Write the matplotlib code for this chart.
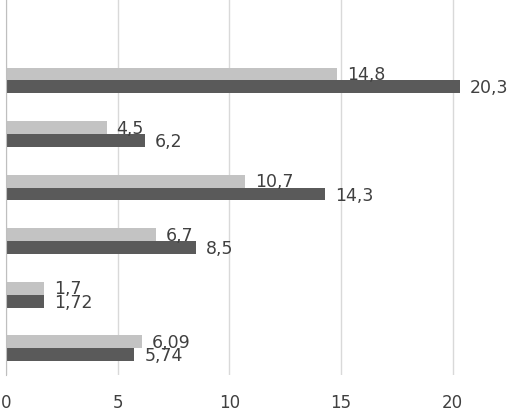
import numpy as np
import matplotlib.pyplot as plt

light_vals = [14.8, 4.5, 10.7, 6.7, 1.7, 6.09]
dark_vals = [20.3, 6.2, 14.3, 8.5, 1.72, 5.74]
light_labels = ["14,8", "4,5", "10,7", "6,7", "1,7", "6,09"]
dark_labels = ["20,3", "6,2", "14,3", "8,5", "1,72", "5,74"]
x_ticks = [0, 5, 10, 15, 20]

fig = plt.figure(figsize=(5.12, 4.11), dpi=100)
ax = fig.add_axes([6 / 512, 36 / 411, 1 - 6 / 512, 1 - 36 / 411])

pos = np.arange(1, len(light_vals) + 1)
h = 0.24
ax.barh(pos - h / 2, light_vals, height=h, color="#c3c3c3", zorder=2)
ax.barh(pos + h / 2, dark_vals, height=h, color="#5a5a5a", zorder=2)

for p, v, t in zip(pos, light_vals, light_labels):
    ax.text(v + 0.45, p - h / 2 + 0.02, t, va="center", ha="left", fontsize=12.5, color="#404040")
for p, v, t in zip(pos, dark_vals, dark_labels):
    ax.text(v + 0.45, p + h / 2 + 0.03, t, va="center", ha="left", fontsize=12.5, color="#404040")

ax.set_xlim(0, 22.65)
ax.set_ylim(6.5, -0.5)
ax.set_xticks(x_ticks)
ax.set_xticklabels([str(t) for t in x_ticks], fontsize=12, color="#404040")
ax.set_yticks([])
ax.tick_params(axis="x", length=0, pad=14)
ax.grid(axis="x", color="#d9d9d9", linewidth=1, zorder=0)
for s in ["top", "right", "bottom"]:
    ax.spines[s].set_visible(False)
ax.spines["left"].set_color("#bfbfbf")

fig.savefig("out.png", dpi=100)
